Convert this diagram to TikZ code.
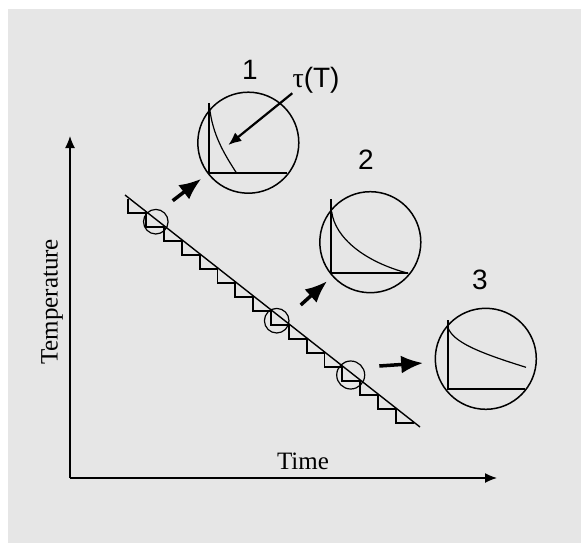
\documentclass[tikz,border=0pt]{standalone}
\usepackage{fontspec}
\usepackage{tikz}
\usetikzlibrary{arrows.meta}
\setmainfont{Liberation Serif}
\newfontfamily\numfont{Liberation Sans}
\definecolor{panelgray}{RGB}{230,230,230}

\begin{document}
\begin{tikzpicture}[x=1pt, y=-1pt,
    bigcirc/.style={draw, circle, line width=1.5pt, minimum size=101pt, inner sep=0pt},
    smallcirc/.style={draw, circle, line width=1.2pt, inner sep=0pt},
    bigarrow/.style={line width=3.5pt, -{Latex[length=22pt, width=18pt]}},
    axisarrow/.style={line width=1.3pt, -{Latex[length=12pt, width=10pt]}},
    numlabel/.style={font=\numfont\fontsize{28}{28}\selectfont, inner sep=0pt},
    axislabel/.style={font=\fontsize{25}{25}\selectfont, inner sep=0pt}]
\useasboundingbox (0,0) rectangle (581,543);
\fill[panelgray] (8,9) rectangle (581,543);

% Axes
\coordinate (origin) at (70,478);
\coordinate (ytip) at (70,136);
\coordinate (xtip) at (497,478);
\draw[axisarrow] (origin) -- (ytip);
\draw[axisarrow] (origin) -- (xtip);
\node[axislabel, rotate=90] (templabel) at (52,302) {Temperature};
\node[axislabel] (timelabel) at (303,461) {Time};

% Cooling line and staircase
\draw[line width=1.4pt] (125,195) -- (420,427);
\draw[line width=1.8pt] (128.3,199.3)
    \foreach \k in {0,...,15} { -- ++(0,14) -- ++(17.83,0) };

% Small circles on the line
\node[smallcirc, minimum size=24.6pt] (s1) at (155.8,221.7) {};
\node[smallcirc, minimum size=24.6pt] (s2) at (276.7,320.7) {};
\node[smallcirc, minimum size=28pt] (s3) at (350.7,375) {};

% Zoomed circles
\node[bigcirc] (c1) at (248.3,142.7) {};
\node[bigcirc] (c2) at (370.3,242.2) {};
\node[bigcirc] (c3) at (485.8,358.8) {};

\node[numlabel] (n1) at (250,70) {1};
\node[numlabel] (n2) at (366,160) {2};
\node[numlabel] (n3) at (480,280) {3};

% Decay curves
\draw[line width=1.8pt] (209.3,103) |- (286.7,173.3);
\draw[line width=1.2pt] (209.3,105) .. controls (212,135) and (225,155) .. (236.7,173.3);

\draw[line width=1.8pt] (331.3,199.3) |- (408.3,273.3);
\draw[line width=1.2pt] (331.7,211.7) .. controls (335,238) and (365,262) .. (408.3,273.3);

\draw[line width=1.8pt] (447.7,320) |- (525,389.3);
\draw[line width=1.2pt] (447.7,326.7) .. controls (452,342) and (480,353) .. (526,367.3);

% Arrows to the circles
\coordinate (a1) at (172.7,200.7);
\coordinate (a2) at (300.7,305);
\coordinate (a3) at (379.3,366);
\draw[bigarrow, shorten >=8pt] (a1) -- (c1);
\draw[bigarrow, shorten >=7pt] (a2) -- (c2);
\draw[bigarrow, shorten >=11.5pt] (a3) -- (c3);

% Time constant label
\node[font=\fontsize{28}{28}\selectfont, inner sep=0pt] (tau) at (316,80) {τ{\numfont(T)}};
\coordinate (tauend) at (228.3,145);
\draw[line width=2.2pt, -{Latex[length=13pt, width=11pt]}] (tau.south west) -- (tauend);
\end{tikzpicture}
\end{document}
